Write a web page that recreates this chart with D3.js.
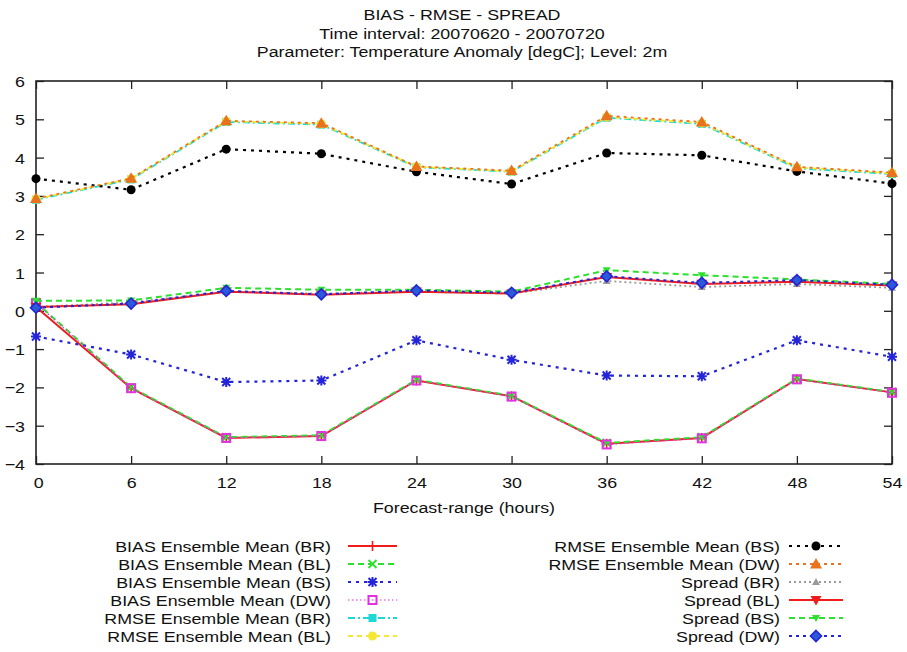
<!DOCTYPE html>
<html>
<head>
<meta charset="utf-8">
<script src="https://cdn.jsdelivr.net/npm/d3@7"></script>
<style>
  html, body { margin: 0; padding: 0; background: #fff; }
  svg { display: block; }
  text { font-family: "Liberation Sans", Arial, Helvetica, sans-serif; fill: #111; }
</style>
</head>
<body>
<svg id="chart" width="907" height="652"></svg>
<script>
// Forecast range (hours) on the x axis
const hours = [0, 6, 12, 18, 24, 30, 36, 42, 48, 54];
const xTicks = [0, 6, 12, 18, 24, 30, 36, 42, 48, 54];
const yTicks = [-4, -3, -2, -1, 0, 1, 2, 3, 4, 5, 6];

const titleLines = [
  "BIAS - RMSE - SPREAD",
  "Time interval: 20070620 - 20070720",
  "Parameter: Temperature Anomaly [degC]; Level: 2m"
];
const xLabel = "Forecast-range (hours)";

// Scores per model (degC)
const biasBR   = [0.10, -2.02, -3.32, -3.27, -1.82, -2.23, -3.47, -3.32, -1.78, -2.13];
const biasBL   = [0.22, -2.00, -3.30, -3.25, -1.80, -2.22, -3.45, -3.30, -1.77, -2.12];
const biasBS   = [-0.67, -1.14, -1.86, -1.82, -0.77, -1.28, -1.69, -1.71, -0.77, -1.20];
const biasDW   = [0.20, -2.02, -3.32, -3.27, -1.82, -2.24, -3.49, -3.33, -1.79, -2.14];
const rmseBR   = [2.90, 3.43, 4.93, 4.86, 3.75, 3.63, 5.04, 4.88, 3.72, 3.57];
const rmseBL   = [2.92, 3.45, 4.95, 4.88, 3.76, 3.64, 5.06, 4.90, 3.74, 3.59];
const rmseBS   = [3.45, 3.16, 4.22, 4.10, 3.63, 3.31, 4.12, 4.06, 3.64, 3.32];
const rmseDW   = [2.93, 3.46, 4.96, 4.90, 3.77, 3.66, 5.09, 4.93, 3.76, 3.61];
const spreadBR = [0.10, 0.22, 0.50, 0.45, 0.50, 0.45, 0.78, 0.62, 0.70, 0.60];
const spreadBL = [0.10, 0.17, 0.50, 0.42, 0.50, 0.45, 0.88, 0.70, 0.76, 0.66];
const spreadBS = [0.26, 0.27, 0.60, 0.55, 0.55, 0.50, 1.06, 0.93, 0.82, 0.70];
const spreadDW = [0.08, 0.19, 0.52, 0.43, 0.53, 0.47, 0.90, 0.73, 0.80, 0.68];

const seriesNames = [
  "BIAS Ensemble Mean (BR)", "BIAS Ensemble Mean (BL)", "BIAS Ensemble Mean (BS)",
  "BIAS Ensemble Mean (DW)", "RMSE Ensemble Mean (BR)", "RMSE Ensemble Mean (BL)",
  "RMSE Ensemble Mean (BS)", "RMSE Ensemble Mean (DW)", "Spread (BR)",
  "Spread (BL)", "Spread (BS)", "Spread (DW)"
];
const seriesValues = [biasBR, biasBL, biasBS, biasDW, rmseBR, rmseBL, rmseBS, rmseDW,
                      spreadBR, spreadBL, spreadBS, spreadDW];

// Line/point styles, one per series
const styles = [
  { color: "#f01c1c", dash: null,       width: 2,   marker: "plus",     size: 5 },
  { color: "#2ee02e", dash: "6,4",      width: 2,   marker: "cross",    size: 4 },
  { color: "#2424d8", dash: "3,5",      width: 2.2, marker: "star",     size: 5 },
  { color: "#e032e0", dash: "1.5,2.5",  width: 1.2, marker: "squareO",  size: 4 },
  { color: "#1ed8d8", dash: "7,3,2,3",  width: 1.8, marker: "squareF",  size: 4 },
  { color: "#f4e832", dash: "5,4",      width: 1.8, marker: "circle",   size: 4.5 },
  { color: "#000000", dash: "3,5",      width: 2.2, marker: "circle",   size: 4.5 },
  { color: "#e8721e", dash: "3,4",      width: 1.8, marker: "triUp",    size: 6 },
  { color: "#9a9a9a", dash: "2,3",      width: 1.8, marker: "triUp",    size: 4 },
  { color: "#f01c1c", dash: null,       width: 2,   marker: "triDown",  size: 5.5 },
  { color: "#2ee02e", dash: "6,4",      width: 2,   marker: "triDown",  size: 4 },
  { color: "#2424d8", dash: "3,4",      width: 2,   marker: "diamond",  size: 5.5 }
];

const W = 907, H = 652;
const margin = { left: 36, right: 15, top: 81, bottom: 188 };
const plotW = W - margin.left - margin.right;
const plotH = H - margin.top - margin.bottom;
const SX = 1.15;   // horizontal stretch of the label glyphs
const FS = 15.5;

const svg = d3.select("#chart");
const g = svg.append("g").attr("transform", `translate(${margin.left},${margin.top})`);

const x = d3.scaleLinear().domain([0, 54]).range([0, plotW]);
const y = d3.scaleLinear().domain([-4, 6]).range([plotH, 0]);

function label(parent, px, py, str, anchor) {
  const t = parent.append("g").attr("transform", `translate(${px},${py}) scale(${SX},1)`);
  t.append("text").attr("text-anchor", anchor).attr("font-size", FS).text(str);
  return t;
}

// Title
titleLines.forEach((s, i) => label(svg, 462, 20 + i * 18.5, s, "middle"));

// Axes with inward, mirrored ticks
const tickLen = 8;
const axL = g.append("g").call(d3.axisLeft(y).tickValues(yTicks).tickSizeInner(-tickLen).tickSizeOuter(0).tickPadding(11).tickFormat(d3.format("d")));
const axR = g.append("g").attr("transform", `translate(${plotW},0)`).call(d3.axisRight(y).tickValues(yTicks).tickSizeInner(-tickLen).tickSizeOuter(0).tickFormat(""));
const axB = g.append("g").attr("transform", `translate(0,${plotH})`).call(d3.axisBottom(x).tickValues(xTicks).tickSizeInner(-tickLen).tickSizeOuter(0).tickFormat(d3.format("d")));
const axT = g.append("g").call(d3.axisTop(x).tickValues(xTicks).tickSizeInner(-tickLen).tickSizeOuter(0).tickFormat(""));

[axL, axR, axB, axT].forEach(a => {
  a.select(".domain").remove();
  a.selectAll(".tick line").attr("stroke", "#222").attr("stroke-width", 1.3);
  a.selectAll(".tick text").attr("font-size", FS).attr("font-family", "Liberation Sans, Arial, sans-serif").attr("fill", "#111");
});
axL.selectAll(".tick text").attr("x", -11 / SX).attr("dy", "0.36em").attr("transform", `scale(${SX},1)`);
axB.selectAll(".tick text").attr("transform", `scale(${SX},1)`)
   .attr("x", d => (d === 0 ? 2 : 0))
   .attr("y", 24.5).attr("dy", 0);

// Border
g.append("rect").attr("x", 0).attr("y", 0).attr("width", plotW).attr("height", plotH)
  .attr("fill", "none").attr("stroke", "#222").attr("stroke-width", 1.6);

// x axis title
label(svg, margin.left + plotW / 2, 513, xLabel, "middle");

// Marker drawing
function drawMarker(sel, type, s, color) {
  switch (type) {
    case "plus":
      sel.append("path").attr("d", `M${-s},0H${s}M0,${-s}V${s}`).attr("stroke", color).attr("stroke-width", 1.6).attr("fill", "none"); break;
    case "cross":
      sel.append("path").attr("d", `M${-s},${-s}L${s},${s}M${-s},${s}L${s},${-s}`).attr("stroke", color).attr("stroke-width", 1.8).attr("fill", "none"); break;
    case "star":
      sel.append("path").attr("d", `M${-s},0H${s}M0,${-s}V${s}M${-s*0.8},${-s*0.8}L${s*0.8},${s*0.8}M${-s*0.8},${s*0.8}L${s*0.8},${-s*0.8}`)
        .attr("stroke", color).attr("stroke-width", 2).attr("fill", "none"); break;
    case "squareO":
      sel.append("rect").attr("x", -s).attr("y", -s).attr("width", 2*s).attr("height", 2*s).attr("fill", "none").attr("stroke", color).attr("stroke-width", 2); break;
    case "squareF":
      sel.append("rect").attr("x", -s).attr("y", -s).attr("width", 2*s).attr("height", 2*s).attr("fill", color); break;
    case "circle":
      sel.append("circle").attr("r", s).attr("fill", color); break;
    case "triUp":
      sel.append("path").attr("d", `M0,${-s}L${s},${s*0.75}L${-s},${s*0.75}Z`).attr("fill", color); break;
    case "triDown":
      sel.append("path").attr("d", `M0,${s}L${s},${-s*0.75}L${-s},${-s*0.75}Z`).attr("fill", color); break;
    case "diamond":
      sel.append("path").attr("d", `M0,${-s}L${s},0L0,${s}L${-s},0Z`).attr("fill", "#2a5ad8").attr("stroke", color).attr("stroke-width", 1.6); break;
  }
}

const line = d3.line().x(d => x(d[0])).y(d => y(d[1]));

seriesValues.forEach((vals, i) => {
  const st = styles[i];
  const pts = hours.map((h, k) => [h, vals[k]]);
  const sg = g.append("g");
  sg.append("path").datum(pts).attr("d", line).attr("fill", "none")
    .attr("stroke", st.color).attr("stroke-width", st.width)
    .attr("stroke-dasharray", st.dash);
  pts.forEach(p => {
    const m = sg.append("g").attr("transform", `translate(${x(p[0])},${y(p[1])})`);
    drawMarker(m, st.marker, st.size, st.color);
  });
});

// Legend: two columns of six rows
const legendCols = [
  { textX: 331, x0: 348, x1: 397 },
  { textX: 780, x0: 789, x1: 843 }
];
seriesNames.forEach((name, i) => {
  const col = legendCols[Math.floor(i / 6)];
  const row = i % 6;
  const cy = 546 + row * 18;
  label(svg, col.textX, cy + 5.5, name, "end");
  const st = styles[i];
  svg.append("line").attr("x1", col.x0).attr("x2", col.x1).attr("y1", cy).attr("y2", cy)
    .attr("stroke", st.color).attr("stroke-width", st.width).attr("stroke-dasharray", st.dash);
  const m = svg.append("g").attr("transform", `translate(${(col.x0 + col.x1) / 2},${cy})`);
  drawMarker(m, st.marker, st.size, st.color);
});
</script>
</body>
</html>
